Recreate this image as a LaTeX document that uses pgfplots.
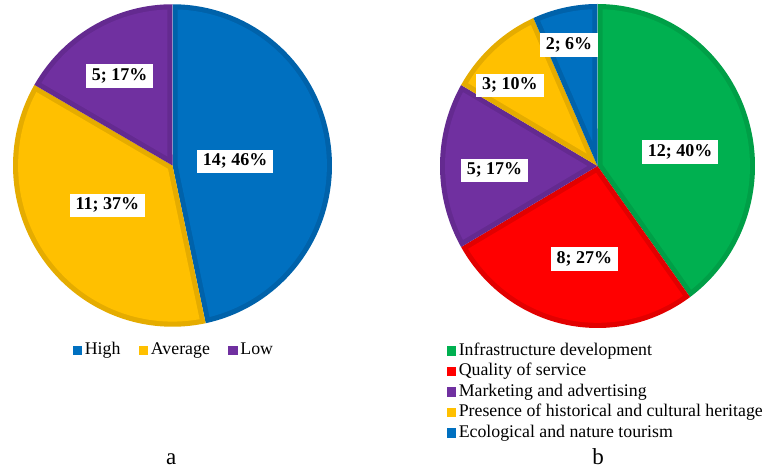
\documentclass[border=0pt]{standalone}
\usepackage{fontspec}
\setmainfont{Liberation Serif}
\usepackage{pgfplots}
\pgfplotsset{compat=1.18}

\definecolor{cBlue}{HTML}{0070C0}
\definecolor{cBlueD}{HTML}{0062AA}
\definecolor{cGold}{HTML}{FFC000}
\definecolor{cGoldD}{HTML}{E5AC00}
\definecolor{cPurple}{HTML}{7030A0}
\definecolor{cPurpleD}{HTML}{642A90}
\definecolor{cGreen}{HTML}{00B050}
\definecolor{cGreenD}{HTML}{009F47}
\definecolor{cRed}{HTML}{FF0000}
\definecolor{cRedD}{HTML}{E20000}

% width of the darker rim of each slice, in axis units
\newcommand{\pieedge}{0.032}

% \pieslice{count before}{count}{total}{fill colour}{rim colour}
% slices run clockwise from 12 o'clock
\newcommand{\pieslice}[5]{%
  \addplot[fill=#5, draw=none, forget plot,
    domain={90-360*(#1+#2)/#3}:{90-360*#1/#3}, samples=120, variable=\t]
    ({cos(\t)},{sin(\t)}) -- (axis cs:0,0) -- cycle;
  \addplot[fill=#4, draw=none,
    domain={90-360*(#1+#2)/#3+asin(\pieedge/(1-\pieedge))}:{90-360*#1/#3-asin(\pieedge/(1-\pieedge))},
    samples=120, variable=\t]
    ({(1-\pieedge)*cos(\t)},{(1-\pieedge)*sin(\t)})
    -- (axis cs:{\pieedge/sin(180*#2/#3)*cos(90-360*(#1+#2/2)/#3)},{\pieedge/sin(180*#2/#3)*sin(90-360*(#1+#2/2)/#3)})
    -- cycle;
}

\pgfplotsset{
  pie/.style={
    scale only axis, hide axis, clip=false,
    xmin=-1, xmax=1, ymin=-1, ymax=1,
    legend image code/.code={\fill[##1] (0pt,-4.75pt) rectangle (9.5pt,4.75pt);},
    legend cell align=left,
    legend style={draw=none, fill=none, inner sep=0pt, row sep=2.5pt,
      font=\fontsize{17.8}{20}\selectfont,
      nodes={inner xsep=2.5pt, inner ysep=0pt, text height=13pt, text depth=4.5pt}},
  },
}
\tikzset{
  lbl/.style={fill=white, font=\bfseries\fontsize{18}{20}\selectfont,
    inner xsep=6pt, inner ysep=4pt, text height=12.3pt, text depth=3.5pt},
}

\begin{document}
\begin{tikzpicture}
\useasboundingbox (0,0) rectangle (766pt,468pt);

% (a) assessment level
\begin{axis}[pie, at={(172.5pt,302.5pt)}, anchor=center,
  width=319pt, height=322.5pt,
  legend columns=3,
  legend style={at={(axis description cs:0.187,-0.074)}, anchor=west,
    /tikz/every even column/.append style={column sep=16pt}}]
  \pieslice{0}{14}{30}{cBlue}{cBlueD}
  \pieslice{14}{11}{30}{cGold}{cGoldD}
  \pieslice{25}{5}{30}{cPurple}{cPurpleD}
  \legend{High, Average, Low}
  \node[lbl] at (axis cs:0.392,0.025) {14; 46\%};
  \node[lbl] at (axis cs:-0.408,-0.248) {11; 37\%};
  \node[lbl] at (axis cs:-0.332,0.555) {5; 17\%};
\end{axis}

% (b) factors
\begin{axis}[pie, at={(597.5pt,302pt)}, anchor=center,
  width=315pt, height=324pt,
  legend columns=1,
  legend style={at={(axis description cs:0.021,-0.043)}, anchor=north west,
    row sep=3pt}]
  \pieslice{0}{12}{30}{cGreen}{cGreenD}
  \pieslice{12}{8}{30}{cRed}{cRedD}
  \pieslice{20}{5}{30}{cPurple}{cPurpleD}
  \pieslice{25}{3}{30}{cGold}{cGoldD}
  \pieslice{28}{2}{30}{cBlue}{cBlueD}
  \legend{Infrastructure development, Quality of service,
    Marketing and advertising, Presence of historical and cultural heritage,
    Ecological and nature tourism}
  \node[lbl] at (axis cs:0.524,0.086) {12; 40\%};
  \node[lbl] at (axis cs:-0.083,-0.574) {8; 27\%};
  \node[lbl] at (axis cs:-0.654,-0.028) {5; 17\%};
  \node[lbl] at (axis cs:-0.556,0.497) {3; 10\%};
  \node[lbl] at (axis cs:-0.181,0.747) {2; 6\%};
\end{axis}

\node[font=\fontsize{23}{26}\selectfont, anchor=base, inner sep=0pt] at (171.3pt,3.5pt) {a};
\node[font=\fontsize{23}{26}\selectfont, anchor=base, inner sep=0pt] at (598pt,3.5pt) {b};
\end{tikzpicture}
\end{document}
